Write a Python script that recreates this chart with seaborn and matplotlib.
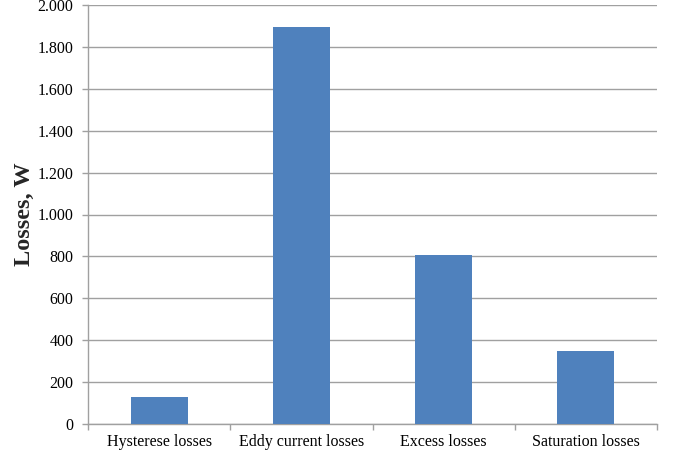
import matplotlib
matplotlib.use("Agg")
import matplotlib.pyplot as plt
from matplotlib.ticker import FuncFormatter, FixedLocator, MultipleLocator
import seaborn as sns
import pandas as pd

# Loss components (W)
categories = ["Hysterese losses", "Eddy current losses", "Excess losses", "Saturation losses"]
losses_w = [127, 1894, 805, 350]

df = pd.DataFrame({"component": categories, "losses": losses_w})

sns.set_theme(style="white")
plt.rcParams["font.family"] = ["Liberation Serif", "DejaVu Serif"]

fig = plt.figure(figsize=(6.75, 4.57), dpi=100)
ax = fig.add_axes([88 / 675, 33 / 457, (657 - 88) / 675, (424 - 5) / 457])

sns.barplot(data=df, x="component", y="losses", color="#4F81BD", saturation=1,
            width=0.4, ax=ax, zorder=3, linewidth=0)

ax.set_xlim(-0.5, len(categories) - 0.5)
ax.set_ylim(0, 2000)
ax.yaxis.set_major_locator(MultipleLocator(200))
ax.yaxis.set_major_formatter(FuncFormatter(lambda v, _: f"{int(v):,}".replace(",", ".")))

grid_col = "#A0A0A0"
ax.grid(axis="y", color=grid_col, linewidth=1.0, zorder=0)
ax.set_axisbelow(True)

for side in ("top", "right"):
    ax.spines[side].set_visible(False)
for side in ("left", "bottom"):
    ax.spines[side].set_color(grid_col)
    ax.spines[side].set_linewidth(1.0)

# Category separators on the x axis
ax.xaxis.set_minor_locator(FixedLocator([i - 0.5 for i in range(len(categories) + 1)]))
ax.tick_params(axis="x", which="major", length=0, pad=7, labelsize=11.5, colors="black")
ax.tick_params(axis="x", which="minor", bottom=True, length=4, color=grid_col, width=1.0)
ax.tick_params(axis="y", which="major", left=True, length=4.5, color=grid_col, width=1.0,
               pad=6, labelsize=11.5, labelcolor="black")

ax.set_xlabel("")
ax.set_ylabel("Losses, W", fontsize=17.5, fontweight="bold", labelpad=2)

fig.savefig("out.png", dpi=100)
